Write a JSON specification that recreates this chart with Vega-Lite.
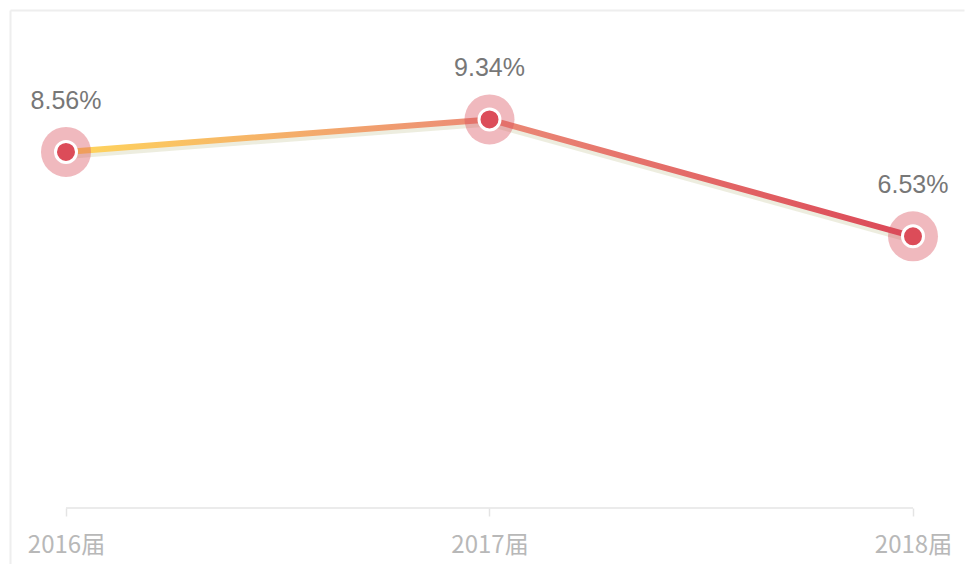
{
  "$schema": "https://vega.github.io/schema/vega-lite/v6.json",
  "width": 954,
  "height": 554,
  "autosize": {"type": "none"},
  "padding": {"left": 10, "top": 10, "right": 1, "bottom": 0},
  "background": "#ffffff",
  "config": {"view": {"stroke": null}},
  "data": {"values": [
    {"year": 2016, "rate": 8.56, "label": "8.56%"},
    {"year": 2017, "rate": 9.34, "label": "9.34%"},
    {"year": 2018, "rate": 6.53, "label": "6.53%"}
  ]},
  "encoding": {
    "x": {
      "field": "year", "type": "quantitative",
      "scale": {"domain": [2015.86777, 2018.12043], "nice": false, "zero": false},
      "axis": {
        "title": null,
        "values": [2015.86777, 2016, 2017, 2018],
        "labelExpr": "datum.value < 2015.9 ? '' : format(datum.value, 'd') + '届'",
        "domain": false,
        "grid": true,
        "gridColor": "#eeeeee",
        "gridWidth": 2,
        "gridOpacity": {"condition": {"test": "datum.value < 2015.9", "value": 1}, "value": 0},
        "ticks": true,
        "tickColor": "#e4e4e4",
        "tickSize": 8,
        "tickWidth": 1.5,
        "tickOpacity": {"condition": {"test": "datum.value < 2015.9", "value": 0}, "value": 1},
        "offset": -56,
        "labelFont": "Noto Sans CJK SC",
        "labelFontSize": 24,
        "labelColor": "#b8b8b8",
        "labelPadding": 17,
        "labelFlush": false,
        "labelOverlap": false
      }
    },
    "y": {
      "field": "rate", "type": "quantitative",
      "scale": {"domain": [-1.346, 11.971], "nice": false, "zero": false},
      "axis": {
        "title": null,
        "values": [11.971],
        "labels": false,
        "ticks": false,
        "domain": false,
        "grid": true,
        "gridColor": "#eeeeee",
        "gridWidth": 2
      }
    }
  },
  "layer": [
    {
      "mark": {"type": "line", "color": "#e4e4e4", "strokeWidth": 1.5},
      "encoding": {
        "y": {"datum": 0, "type": "quantitative"}
      }
    },
    {
      "mark": {"type": "line", "strokeWidth": 6, "color": "#e6e6d2", "opacity": 0.7, "yOffset": 4}
    },
    {
      "mark": {
        "type": "line",
        "strokeWidth": 6,
        "color": {
          "gradient": "linear",
          "x1": 0, "y1": 0, "x2": 1, "y2": 0,
          "stops": [
            {"offset": 0, "color": "#ffd65c"},
            {"offset": 0.5, "color": "#eb8a76"},
            {"offset": 1, "color": "#db4757"}
          ]
        }
      }
    },
    {
      "mark": {"type": "point", "filled": true, "size": 2500, "color": "#d9505c", "opacity": 0.4}
    },
    {
      "mark": {"type": "point", "filled": true, "size": 441, "color": "#dc4c59", "opacity": 1, "stroke": "#ffffff", "strokeWidth": 3}
    },
    {
      "mark": {"type": "text", "dy": -51, "fontSize": 25, "font": "Liberation Sans", "color": "#777777", "baseline": "middle"},
      "encoding": {"text": {"field": "label", "type": "nominal"}}
    }
  ]
}
